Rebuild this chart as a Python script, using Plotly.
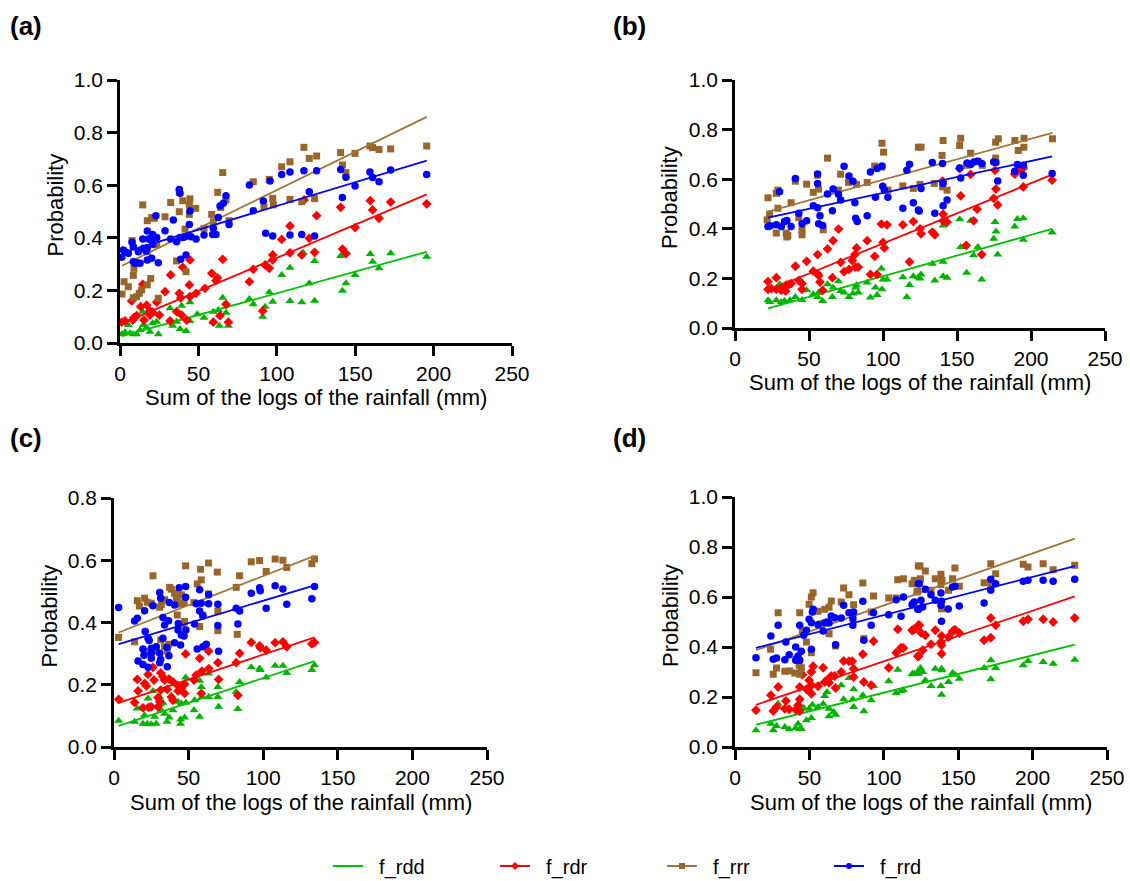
import plotly.graph_objects as go

# ---------------- data: panel (a) ----------------
a_rdd_x = [116.9, 108.4, 103.1, 120.7, 95.2, 97.4, 92.5, 91.0, 108.4, 115.9, 85.0, 82.5, 65.5, 62.7, 67.6, 59.5, 59.5, 63.4, 69.1, 44.6, 39.3, 38.3, 36.1, 38.3, 42.1, 44.6, 31.9, 33.6, 24.4, 23.4, 20.8, 17.0, 14.5, 14.9, 12.8, 10.6, 8.5, 6.4, 3.2, 1.1, 5.3, 19.1, 49.3, 53.6, 124.1, 140.7, 159.6, 161.1, 165.2, 172.6, 195.6, 149.9, 144.1, 141.9, 124.1]
a_rdd_y = [0.343, 0.286, 0.259, 0.227, 0.193, 0.157, 0.138, 0.100, 0.160, 0.155, 0.147, 0.167, 0.172, 0.125, 0.115, 0.081, 0.119, 0.066, 0.066, 0.155, 0.142, 0.109, 0.081, 0.053, 0.046, 0.084, 0.132, 0.066, 0.033, 0.081, 0.075, 0.058, 0.119, 0.068, 0.049, 0.033, 0.033, 0.037, 0.041, 0.033, 0.068, 0.043, 0.109, 0.096, 0.312, 0.331, 0.338, 0.309, 0.284, 0.341, 0.328, 0.259, 0.227, 0.199, 0.161]
a_rdr_x = [108.4, 103.1, 120.7, 115.9, 97.4, 97.4, 92.5, 95.2, 85.0, 82.5, 108.4, 65.5, 44.6, 40.0, 32.3, 62.1, 61.2, 58.5, 54.2, 44.2, 48.5, 44.6, 37.8, 38.7, 28.7, 14.5, 7.4, 13.2, 17.0, 23.4, 19.1, 20.8, 10.6, 8.9, 8.1, 3.2, 1.1, 15.3, 19.1, 25.1, 31.9, 36.1, 39.3, 42.5, 67.6, 63.8, 59.5, 69.1, 91.0, 117.4, 125.4, 140.7, 159.6, 161.1, 165.2, 172.6, 195.6, 149.9, 124.1, 141.9, 144.1]
a_rdr_y = [0.445, 0.394, 0.398, 0.335, 0.335, 0.316, 0.297, 0.284, 0.280, 0.233, 0.343, 0.318, 0.316, 0.288, 0.259, 0.248, 0.237, 0.265, 0.208, 0.221, 0.189, 0.176, 0.189, 0.172, 0.195, 0.223, 0.160, 0.138, 0.144, 0.155, 0.122, 0.117, 0.104, 0.096, 0.087, 0.084, 0.079, 0.087, 0.106, 0.106, 0.084, 0.119, 0.106, 0.087, 0.147, 0.104, 0.079, 0.079, 0.122, 0.544, 0.484, 0.516, 0.541, 0.506, 0.474, 0.536, 0.529, 0.439, 0.345, 0.357, 0.340]
a_rrr_x = [117.3, 120.7, 108.4, 103.1, 65.5, 14.5, 32.3, 37.8, 40.0, 44.6, 44.2, 48.3, 37.8, 44.2, 17.4, 20.2, 21.9, 28.7, 58.5, 62.3, 67.6, 64.2, 59.5, 69.5, 53.6, 41.5, 85.0, 95.2, 91.8, 97.4, 97.8, 108.4, 115.9, 7.7, 17.4, 23.4, 36.1, 8.9, 8.5, 42.1, 2.6, 19.6, 5.3, 17.4, 13.8, 1.3, 12.3, 10.6, 8.5, 24.4, 125.4, 140.7, 141.9, 144.1, 149.9, 159.4, 161.1, 165.2, 172.6, 195.6, 124.1]
a_rrr_y = [0.744, 0.702, 0.689, 0.670, 0.648, 0.525, 0.534, 0.573, 0.541, 0.548, 0.525, 0.512, 0.499, 0.489, 0.465, 0.477, 0.474, 0.480, 0.489, 0.573, 0.544, 0.515, 0.461, 0.465, 0.436, 0.433, 0.613, 0.622, 0.518, 0.550, 0.525, 0.546, 0.537, 0.389, 0.347, 0.373, 0.312, 0.284, 0.257, 0.271, 0.233, 0.245, 0.214, 0.221, 0.202, 0.186, 0.189, 0.176, 0.172, 0.170, 0.711, 0.724, 0.677, 0.648, 0.721, 0.749, 0.743, 0.736, 0.738, 0.749, 0.549]
a_rrd_x = [37.8, 38.3, 22.9, 34.0, 44.6, 44.2, 28.7, 17.4, 20.8, 21.3, 14.5, 18.1, 23.4, 32.3, 36.1, 38.3, 40.0, 41.5, 45.3, 48.5, 53.6, 59.5, 59.1, 61.2, 62.7, 63.8, 65.9, 67.6, 69.5, 82.5, 85.0, 91.4, 95.7, 103.1, 108.4, 117.3, 120.7, 92.9, 97.4, 108.4, 115.9, 2.1, 3.2, 1.1, 5.3, 7.7, 8.5, 11.7, 14.9, 17.4, 16.6, 20.8, 9.6, 12.8, 10.6, 17.4, 20.2, 24.4, 38.7, 42.1, 8.5, 125.4, 140.7, 144.1, 149.9, 159.4, 161.1, 165.2, 172.6, 195.6, 141.8, 124.1]
a_rrd_y = [0.584, 0.569, 0.484, 0.468, 0.502, 0.451, 0.427, 0.426, 0.413, 0.401, 0.395, 0.395, 0.401, 0.395, 0.385, 0.401, 0.401, 0.404, 0.404, 0.395, 0.411, 0.436, 0.413, 0.413, 0.477, 0.521, 0.531, 0.560, 0.451, 0.601, 0.503, 0.540, 0.616, 0.641, 0.650, 0.655, 0.575, 0.417, 0.407, 0.411, 0.413, 0.354, 0.347, 0.326, 0.341, 0.383, 0.366, 0.347, 0.360, 0.362, 0.350, 0.375, 0.303, 0.303, 0.305, 0.316, 0.322, 0.305, 0.318, 0.335, 0.309, 0.655, 0.660, 0.630, 0.597, 0.650, 0.629, 0.613, 0.658, 0.641, 0.553, 0.407]

# ---------------- data: panel (b) ----------------
b_rdd_x = [22.3, 23.4, 27.9, 30.1, 31.3, 33.5, 37.1, 40.8, 45.3, 48.4, 52.9, 55.8, 56.5, 59.2, 62.5, 66.3, 65.8, 69.9, 71.4, 73.7, 77.0, 79.7, 81.5, 82.1, 83.3, 89.3, 91.5, 94.9, 96.0, 98.9, 100.0, 102.7, 99.3, 113.4, 116.1, 117.9, 120.5, 123.9, 125.0, 125.7, 135.0, 133.3, 140.6, 140.6, 143.3, 151.8, 159.2, 156.5, 152.5, 161.2, 164.1, 166.7, 174.8, 176.3, 175.7, 177.5, 189.0, 190.8, 194.8, 194.8, 214.3, 140.6]
b_rdd_y = [0.112, 0.105, 0.112, 0.176, 0.105, 0.109, 0.112, 0.125, 0.113, 0.152, 0.136, 0.125, 0.143, 0.109, 0.176, 0.163, 0.125, 0.189, 0.149, 0.143, 0.125, 0.139, 0.163, 0.172, 0.143, 0.183, 0.123, 0.163, 0.133, 0.240, 0.196, 0.196, 0.156, 0.205, 0.125, 0.173, 0.209, 0.205, 0.200, 0.216, 0.192, 0.259, 0.267, 0.209, 0.203, 0.439, 0.432, 0.223, 0.327, 0.293, 0.327, 0.196, 0.360, 0.389, 0.427, 0.296, 0.409, 0.440, 0.443, 0.356, 0.385, 0.413]
b_rdr_x = [22.3, 22.3, 27.9, 24.6, 27.9, 31.3, 32.4, 34.6, 36.4, 37.9, 34.2, 40.8, 43.1, 45.3, 45.3, 48.4, 52.9, 55.8, 55.8, 56.5, 57.4, 59.2, 62.5, 66.3, 65.8, 69.9, 71.4, 73.7, 77.0, 79.2, 82.1, 81.5, 83.3, 81.0, 89.3, 91.5, 96.0, 94.4, 100.0, 100.9, 98.9, 102.7, 113.4, 120.5, 117.9, 125.0, 125.7, 133.3, 135.0, 140.6, 140.6, 143.3, 140.2, 152.5, 151.8, 159.2, 161.2, 163.6, 156.2, 166.7, 174.8, 176.3, 177.5, 175.7, 189.0, 190.8, 194.8, 194.8, 214.3]
b_rdr_y = [0.187, 0.156, 0.203, 0.159, 0.156, 0.152, 0.165, 0.173, 0.176, 0.179, 0.149, 0.249, 0.192, 0.179, 0.156, 0.269, 0.229, 0.296, 0.219, 0.212, 0.185, 0.152, 0.319, 0.352, 0.203, 0.399, 0.265, 0.227, 0.236, 0.272, 0.323, 0.245, 0.245, 0.296, 0.352, 0.216, 0.216, 0.289, 0.345, 0.323, 0.419, 0.416, 0.416, 0.429, 0.267, 0.400, 0.380, 0.387, 0.376, 0.459, 0.432, 0.427, 0.592, 0.533, 0.643, 0.619, 0.432, 0.479, 0.333, 0.296, 0.523, 0.560, 0.496, 0.636, 0.620, 0.633, 0.645, 0.569, 0.596]
b_rrr_x = [99.3, 100.4, 62.5, 94.4, 99.3, 123.9, 40.8, 48.4, 55.8, 56.5, 52.9, 71.4, 69.9, 76.6, 82.1, 89.3, 103.3, 113.4, 120.5, 22.3, 29.0, 27.9, 37.9, 29.0, 23.4, 21.7, 43.1, 45.3, 45.3, 59.6, 27.9, 34.6, 35.7, 35.0, 125.7, 140.6, 152.5, 151.8, 139.9, 159.2, 134.6, 125.0, 140.2, 143.3, 156.3, 164.1, 167.1, 176.1, 176.1, 177.9, 189.1, 191.4, 195.2, 195.3, 214.5]
b_rrr_y = [0.745, 0.709, 0.685, 0.653, 0.649, 0.729, 0.592, 0.580, 0.616, 0.560, 0.547, 0.620, 0.556, 0.587, 0.579, 0.587, 0.556, 0.573, 0.563, 0.525, 0.556, 0.543, 0.505, 0.483, 0.459, 0.436, 0.445, 0.396, 0.376, 0.396, 0.383, 0.383, 0.373, 0.367, 0.729, 0.756, 0.765, 0.736, 0.696, 0.705, 0.583, 0.579, 0.569, 0.556, 0.656, 0.672, 0.656, 0.685, 0.749, 0.763, 0.756, 0.716, 0.729, 0.765, 0.763]
b_rrd_x = [73.7, 55.8, 55.8, 40.8, 30.1, 77.0, 79.7, 66.3, 62.5, 69.9, 71.4, 52.9, 55.8, 81.0, 57.4, 65.8, 43.1, 48.4, 45.3, 37.9, 35.0, 33.5, 27.9, 31.3, 22.3, 23.9, 56.5, 59.2, 81.5, 82.6, 89.3, 91.5, 96.0, 99.3, 94.9, 99.8, 100.9, 103.3, 116.1, 117.9, 113.4, 120.5, 123.9, 133.3, 140.2, 124.5, 135.0, 140.6, 143.3, 140.6, 125.7, 152.5, 151.8, 156.9, 159.2, 161.4, 164.1, 166.7, 174.8, 176.3, 177.5, 189.0, 190.8, 194.8, 194.8, 214.3]
b_rrd_y = [0.652, 0.621, 0.583, 0.603, 0.549, 0.613, 0.592, 0.560, 0.540, 0.539, 0.516, 0.493, 0.485, 0.505, 0.453, 0.473, 0.463, 0.432, 0.420, 0.409, 0.433, 0.429, 0.416, 0.409, 0.409, 0.412, 0.420, 0.413, 0.443, 0.429, 0.453, 0.629, 0.643, 0.653, 0.527, 0.572, 0.556, 0.527, 0.636, 0.660, 0.483, 0.505, 0.476, 0.667, 0.663, 0.472, 0.463, 0.493, 0.516, 0.583, 0.563, 0.605, 0.645, 0.665, 0.659, 0.669, 0.672, 0.663, 0.669, 0.667, 0.593, 0.632, 0.659, 0.656, 0.616, 0.623]

# ---------------- data: panel (c) ----------------
c_rdd_x = [3.1, 13.8, 15.6, 19.4, 20.5, 22.8, 22.3, 25.0, 26.1, 27.2, 28.3, 30.6, 31.3, 32.8, 31.7, 33.9, 35.5, 37.0, 39.5, 41.1, 42.9, 44.6, 45.1, 47.3, 48.0, 48.2, 44.6, 53.6, 54.0, 57.4, 57.4, 58.5, 58.9, 63.4, 63.4, 69.6, 69.6, 70.1, 81.9, 84.2, 83.0, 92.0, 97.6, 98.0, 108.0, 113.2, 102.0, 115.8, 132.6, 134.4]
c_rdd_y = [0.084, 0.081, 0.124, 0.075, 0.102, 0.156, 0.075, 0.073, 0.180, 0.097, 0.075, 0.161, 0.137, 0.142, 0.118, 0.107, 0.081, 0.095, 0.118, 0.148, 0.145, 0.088, 0.140, 0.095, 0.223, 0.142, 0.075, 0.118, 0.150, 0.213, 0.097, 0.193, 0.161, 0.236, 0.161, 0.193, 0.161, 0.129, 0.177, 0.209, 0.122, 0.256, 0.252, 0.247, 0.261, 0.261, 0.223, 0.238, 0.247, 0.263]
c_rdr_x = [3.1, 13.8, 15.6, 16.1, 19.4, 20.5, 21.7, 22.8, 23.2, 25.0, 26.1, 26.8, 29.5, 31.3, 32.8, 33.9, 31.3, 29.5, 35.7, 37.0, 39.5, 42.4, 45.1, 47.3, 48.0, 47.3, 42.9, 38.4, 39.5, 30.6, 53.6, 55.1, 57.4, 58.9, 58.5, 63.4, 63.6, 69.6, 70.1, 81.9, 84.2, 83.0, 92.0, 97.6, 98.0, 108.0, 113.2, 102.0, 115.8, 132.6, 134.4]
c_rdr_y = [0.153, 0.143, 0.217, 0.180, 0.126, 0.204, 0.196, 0.233, 0.127, 0.129, 0.256, 0.215, 0.129, 0.238, 0.226, 0.215, 0.183, 0.159, 0.185, 0.218, 0.209, 0.199, 0.188, 0.202, 0.299, 0.172, 0.180, 0.161, 0.150, 0.145, 0.215, 0.231, 0.285, 0.244, 0.172, 0.308, 0.252, 0.271, 0.217, 0.271, 0.301, 0.166, 0.336, 0.325, 0.319, 0.335, 0.338, 0.311, 0.322, 0.331, 0.336]
c_rrr_x = [3.1, 26.1, 48.0, 58.0, 63.4, 69.2, 84.2, 92.0, 58.5, 55.8, 63.4, 69.6, 81.9, 69.6, 82.6, 13.8, 57.4, 15.6, 17.0, 20.5, 22.3, 25.0, 30.6, 31.7, 33.9, 38.4, 40.6, 41.7, 42.4, 44.6, 47.0, 37.3, 45.1, 53.6, 42.4, 47.3, 46.3, 59.6, 22.8, 26.1, 28.3, 33.9, 36.6, 31.3, 35.7, 97.6, 108.0, 113.2, 102.0, 115.8, 132.6, 134.4]
c_rrr_y = [0.352, 0.550, 0.582, 0.571, 0.591, 0.562, 0.550, 0.595, 0.537, 0.524, 0.492, 0.437, 0.513, 0.374, 0.362, 0.338, 0.387, 0.470, 0.453, 0.478, 0.465, 0.462, 0.449, 0.457, 0.473, 0.507, 0.494, 0.481, 0.470, 0.459, 0.464, 0.513, 0.489, 0.464, 0.424, 0.403, 0.392, 0.424, 0.306, 0.309, 0.317, 0.322, 0.330, 0.344, 0.309, 0.599, 0.604, 0.600, 0.564, 0.577, 0.589, 0.604]
c_rrd_x = [3.1, 13.8, 15.6, 20.5, 26.1, 30.6, 31.3, 37.0, 40.6, 43.7, 48.0, 48.0, 57.4, 55.1, 58.5, 63.4, 69.6, 63.4, 57.4, 59.6, 54.0, 69.6, 81.9, 84.2, 83.0, 92.0, 32.8, 36.6, 33.9, 43.1, 42.9, 45.1, 46.9, 48.2, 32.8, 40.6, 44.6, 35.5, 28.3, 25.0, 19.4, 20.9, 22.8, 23.6, 20.1, 25.0, 30.6, 36.8, 16.1, 19.4, 22.8, 25.0, 31.3, 30.6, 35.7, 55.8, 59.6, 61.8, 70.1, 97.6, 98.0, 108.0, 113.2, 102.0, 115.8, 132.6, 134.4]
c_rrd_y = [0.448, 0.405, 0.414, 0.438, 0.454, 0.496, 0.478, 0.464, 0.456, 0.512, 0.516, 0.481, 0.505, 0.460, 0.462, 0.460, 0.459, 0.489, 0.437, 0.421, 0.395, 0.390, 0.446, 0.437, 0.395, 0.494, 0.416, 0.406, 0.392, 0.397, 0.376, 0.360, 0.357, 0.376, 0.349, 0.335, 0.328, 0.320, 0.322, 0.317, 0.315, 0.371, 0.349, 0.342, 0.295, 0.301, 0.301, 0.293, 0.276, 0.265, 0.256, 0.285, 0.281, 0.271, 0.258, 0.315, 0.322, 0.330, 0.308, 0.512, 0.502, 0.518, 0.508, 0.446, 0.459, 0.476, 0.516]

# ---------------- data: panel (d) ----------------
d_rdd_x = [14.1, 24.1, 25.7, 27.9, 29.0, 33.5, 36.4, 40.8, 42.4, 43.5, 44.6, 43.5, 46.2, 48.0, 49.8, 51.3, 52.0, 55.8, 59.2, 60.3, 61.8, 63.2, 63.2, 66.3, 67.6, 71.4, 73.0, 76.6, 79.7, 79.7, 79.2, 85.9, 86.6, 91.5, 93.1, 103.3, 108.3, 109.4, 111.6, 113.2, 119.0, 120.5, 123.2, 119.4, 123.4, 124.6, 126.1, 127.9, 131.7, 134.6, 138.4, 138.8, 138.8, 139.1, 143.5, 146.2, 147.8, 150.7, 167.4, 171.9, 171.9, 175.2, 193.7, 196.9, 207.1, 213.8, 228.3]
d_rdd_y = [0.067, 0.093, 0.067, 0.084, 0.173, 0.080, 0.071, 0.076, 0.093, 0.071, 0.073, 0.167, 0.156, 0.107, 0.153, 0.116, 0.169, 0.160, 0.173, 0.204, 0.220, 0.153, 0.123, 0.140, 0.129, 0.247, 0.191, 0.276, 0.231, 0.160, 0.191, 0.207, 0.143, 0.187, 0.244, 0.263, 0.216, 0.309, 0.224, 0.227, 0.291, 0.293, 0.303, 0.293, 0.293, 0.316, 0.300, 0.267, 0.244, 0.313, 0.244, 0.313, 0.209, 0.307, 0.260, 0.296, 0.289, 0.273, 0.316, 0.347, 0.271, 0.316, 0.327, 0.344, 0.340, 0.333, 0.349]
d_rdr_x = [14.1, 24.1, 25.7, 29.0, 27.9, 34.2, 33.5, 36.4, 40.8, 42.4, 43.5, 43.5, 43.5, 45.3, 48.0, 49.8, 51.3, 51.3, 52.5, 51.3, 55.8, 59.2, 60.3, 61.8, 63.2, 64.7, 67.0, 67.6, 71.4, 73.0, 76.6, 78.8, 79.7, 79.7, 85.9, 86.6, 91.5, 93.1, 103.3, 108.3, 111.6, 113.2, 109.4, 119.0, 120.5, 123.2, 122.8, 119.4, 123.9, 125.0, 127.9, 126.1, 123.4, 131.7, 134.6, 138.4, 138.8, 138.8, 138.8, 143.5, 146.2, 147.8, 150.7, 167.4, 171.9, 171.9, 175.2, 193.7, 196.9, 207.1, 213.8, 228.3]
d_rdr_y = [0.147, 0.207, 0.144, 0.240, 0.160, 0.184, 0.153, 0.151, 0.149, 0.167, 0.191, 0.240, 0.144, 0.289, 0.231, 0.267, 0.300, 0.213, 0.323, 0.247, 0.243, 0.317, 0.260, 0.267, 0.257, 0.284, 0.284, 0.236, 0.300, 0.344, 0.343, 0.343, 0.313, 0.280, 0.371, 0.260, 0.247, 0.423, 0.317, 0.377, 0.397, 0.396, 0.471, 0.467, 0.471, 0.487, 0.363, 0.467, 0.487, 0.457, 0.447, 0.387, 0.363, 0.411, 0.467, 0.420, 0.444, 0.407, 0.373, 0.440, 0.463, 0.469, 0.456, 0.427, 0.516, 0.437, 0.487, 0.503, 0.511, 0.511, 0.500, 0.516]
d_rrr_x = [14.1, 25.7, 27.9, 33.5, 36.8, 40.2, 43.5, 44.6, 23.9, 29.0, 43.5, 45.3, 48.0, 51.3, 49.8, 51.3, 52.5, 55.8, 60.3, 63.2, 64.7, 63.2, 67.6, 71.4, 73.0, 76.6, 79.7, 79.2, 85.9, 86.6, 91.5, 93.1, 103.3, 108.3, 109.4, 113.2, 119.0, 123.2, 122.3, 58.0, 43.1, 120.5, 124.3, 127.9, 124.6, 122.8, 131.7, 134.6, 138.4, 139.1, 138.4, 143.5, 146.2, 147.8, 150.7, 138.8, 167.4, 171.9, 171.9, 175.2, 193.7, 196.9, 207.1, 213.8, 228.3]
d_rrr_y = [0.297, 0.291, 0.316, 0.303, 0.304, 0.296, 0.291, 0.317, 0.391, 0.537, 0.537, 0.463, 0.420, 0.377, 0.571, 0.600, 0.617, 0.543, 0.551, 0.559, 0.584, 0.453, 0.404, 0.580, 0.636, 0.609, 0.569, 0.529, 0.656, 0.433, 0.540, 0.604, 0.596, 0.596, 0.669, 0.673, 0.653, 0.724, 0.620, 0.493, 0.327, 0.667, 0.724, 0.704, 0.673, 0.623, 0.627, 0.673, 0.691, 0.667, 0.649, 0.627, 0.673, 0.716, 0.643, 0.553, 0.657, 0.733, 0.647, 0.693, 0.731, 0.720, 0.733, 0.709, 0.727]
d_rrd_x = [14.1, 24.1, 25.7, 27.9, 29.0, 34.2, 33.5, 36.4, 40.8, 41.3, 43.5, 44.6, 42.4, 40.8, 43.5, 46.2, 48.0, 49.8, 51.3, 51.3, 52.5, 52.0, 55.8, 59.2, 60.3, 61.8, 63.2, 64.7, 67.0, 67.6, 71.4, 73.0, 76.6, 79.2, 79.7, 79.2, 85.9, 86.6, 91.5, 93.1, 103.3, 108.3, 111.6, 113.2, 119.0, 120.5, 123.2, 122.8, 119.4, 125.0, 126.1, 123.4, 123.9, 127.9, 131.7, 134.6, 138.4, 138.8, 138.4, 143.3, 138.8, 146.2, 147.8, 150.7, 167.4, 171.9, 171.9, 175.2, 193.7, 196.9, 207.1, 213.8, 228.3]
d_rrd_y = [0.357, 0.444, 0.351, 0.356, 0.487, 0.420, 0.349, 0.369, 0.400, 0.353, 0.487, 0.383, 0.364, 0.347, 0.347, 0.447, 0.467, 0.511, 0.497, 0.391, 0.551, 0.540, 0.489, 0.464, 0.497, 0.500, 0.496, 0.524, 0.517, 0.409, 0.516, 0.567, 0.537, 0.487, 0.540, 0.513, 0.583, 0.427, 0.487, 0.537, 0.529, 0.589, 0.523, 0.600, 0.569, 0.580, 0.653, 0.551, 0.573, 0.587, 0.560, 0.551, 0.653, 0.631, 0.609, 0.587, 0.616, 0.583, 0.567, 0.552, 0.503, 0.640, 0.643, 0.564, 0.576, 0.671, 0.627, 0.653, 0.663, 0.667, 0.667, 0.663, 0.671]

# linear fits per panel: [intercept, slope] for rdd, rdr, rrr, rrd
fit_a = [[0.024, 0.00165], [0.071, 0.002526], [0.290, 0.002914], [0.341, 0.0018]]
fit_b = [[0.042, 0.001667], [0.098, 0.00243], [0.432, 0.001656], [0.416, 0.001287]]
fit_c = [[0.063, 0.001584], [0.137, 0.0016], [0.362, 0.001874], [0.326, 0.00144]]
fit_d = [[0.068, 0.001494], [0.140, 0.002026], [0.358, 0.002082], [0.375, 0.001527]]

series_names = ["f_rdd", "f_rdr", "f_rrr", "f_rrd"]
panel_labels = ["(a)", "(b)", "(c)", "(d)"]
x_ticks = [0, 50, 100, 150, 200, 250]

# ---------------- styling ----------------
marker_colors = ["#00B400", "#FF0000", "#98652B", "#0000FF"]
line_colors = ["#00C000", "#FF0000", "#A0743A", "#0000FF"]
symbols = ["triangle-up", "diamond", "square", "circle"]
sizes = [8, 7.5, 7, 7.5]

W, H = 1130, 881
FONT = "Liberation Sans, Arial, sans-serif"

# plot areas in pixels: (left, right, top, bottom)
boxes = [
    (120, 512, 80, 343),
    (735, 1105, 80, 328),
    (114, 487, 498, 747),
    (735, 1107, 497, 747),
]
y_max = [1.0, 1.0, 0.8, 1.0]

panels = [
    ([a_rdd_x, a_rdr_x, a_rrr_x, a_rrd_x], [a_rdd_y, a_rdr_y, a_rrr_y, a_rrd_y], fit_a),
    ([b_rdd_x, b_rdr_x, b_rrr_x, b_rrd_x], [b_rdd_y, b_rdr_y, b_rrr_y, b_rrd_y], fit_b),
    ([c_rdd_x, c_rdr_x, c_rrr_x, c_rrd_x], [c_rdd_y, c_rdr_y, c_rrr_y, c_rrd_y], fit_c),
    ([d_rdd_x, d_rdr_x, d_rrr_x, d_rrd_x], [d_rdd_y, d_rdr_y, d_rrr_y, d_rrd_y], fit_d),
]

fig = go.Figure()
annotations = []
layout_axes = {}

for p, (xs, ys, fits) in enumerate(panels):
    xa = "x" if p == 0 else f"x{p + 1}"
    ya = "y" if p == 0 else f"y{p + 1}"
    for s in range(4):
        x, y = xs[s], ys[s]
        b0, b1 = fits[s]
        x0, x1 = min(x), max(x)
        fig.add_trace(go.Scatter(
            x=x, y=y, mode="markers", xaxis=xa, yaxis=ya, showlegend=False,
            cliponaxis=False,
            marker=dict(symbol=symbols[s], size=sizes[s], color=marker_colors[s],
                        line=dict(width=0)),
        ))
        fig.add_trace(go.Scatter(
            x=[x0, x1], y=[b0 + b1 * x0, b0 + b1 * x1], mode="lines",
            xaxis=xa, yaxis=ya, showlegend=False,
            line=dict(color=line_colors[s], width=1.8),
        ))

    l, r, t, btm = boxes[p]
    axis_common = dict(
        showline=True, linecolor="black", linewidth=2.5, mirror=False,
        ticks="outside", ticklen=10, tickwidth=2.5, tickcolor="black",
        showgrid=False, zeroline=False,
        tickfont=dict(family=FONT, size=21, color="black"),
    )
    key_x = "xaxis" if p == 0 else f"xaxis{p + 1}"
    key_y = "yaxis" if p == 0 else f"yaxis{p + 1}"
    layout_axes[key_x] = dict(
        axis_common, domain=[l / W, r / W], range=[0, 250],
        tickmode="array", tickvals=x_ticks, anchor=ya,
    )
    layout_axes[key_y] = dict(
        axis_common, domain=[1 - btm / H, 1 - t / H], range=[0, y_max[p]],
        dtick=0.2, tickformat=".1f", anchor=xa,
    )

    # axis titles
    annotations.append(dict(
        text="Sum of the logs of the rainfall (mm)", xref="paper", yref="paper",
        x=(l + r) / 2 / W, y=1 - (btm + 55) / H, showarrow=False,
        font=dict(family=FONT, size=22, color="black"), xanchor="center", yanchor="middle",
    ))
    annotations.append(dict(
        text="Probability", xref="paper", yref="paper", textangle=-90,
        x=(l - 65) / W, y=1 - ((t + btm) / 2 - 6) / H, showarrow=False,
        font=dict(family=FONT, size=22, color="black"), xanchor="center", yanchor="middle",
    ))

label_pos = [(8, 26), (611, 26), (8, 438), (611, 438)]
for (lx, ly), lab in zip(label_pos, panel_labels):
    annotations.append(dict(
        text=f"<b>{lab}</b>", xref="paper", yref="paper", x=lx / W, y=1 - ly / H,
        showarrow=False, xanchor="left", yanchor="middle",
        font=dict(family=FONT, size=26, color="black"),
    ))

# legend entries
for s in range(4):
    mode = "lines" if s == 0 else "lines+markers"
    fig.add_trace(go.Scatter(
        x=[None], y=[None], mode=mode, name="\u00a0\u00a0" + series_names[s], showlegend=True,
        line=dict(color=line_colors[s], width=1.8),
        marker=dict(symbol=symbols[s], size=6, color=marker_colors[s]),
    ))

fig.update_layout(
    width=W, height=H,
    margin=dict(l=0, r=0, t=0, b=0, autoexpand=False),
    paper_bgcolor="white", plot_bgcolor="white",
    annotations=annotations,
    legend=dict(
        orientation="h", x=328 / W, y=1 - 866 / H, xanchor="left", yanchor="middle",
        font=dict(family=FONT, size=20, color="black"),
        entrywidth=122, entrywidthmode="pixels", itemwidth=30,
        bgcolor="rgba(0,0,0,0)", traceorder="normal",
    ),
    **layout_axes,
)

fig.write_html("out.html")
